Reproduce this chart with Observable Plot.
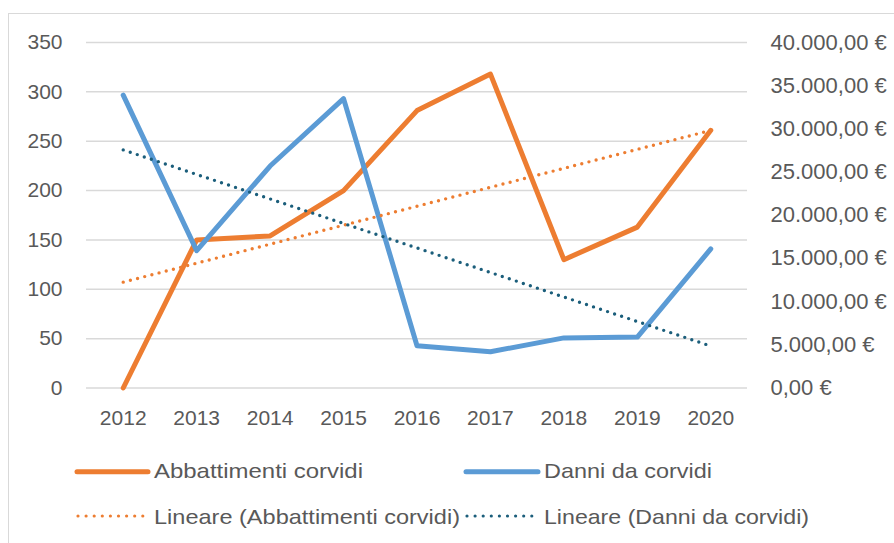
<!DOCTYPE html>
<html>
<head>
<meta charset="utf-8">
<script src="https://cdn.jsdelivr.net/npm/d3@7"></script>
<script src="https://cdn.jsdelivr.net/npm/@observablehq/plot@0.6"></script>
<style>
  html, body { margin: 0; padding: 0; background: #fff; }
  #wrap { position: relative; width: 894px; height: 543px; overflow: hidden; background: #fff; }
  #frame { position: absolute; left: 8px; top: 13px; width: 1000px; height: 700px; border: 1px solid #d9d9d9; box-sizing: border-box; }
  #chart { position: absolute; left: 0; top: 0; }
  #legend { position: absolute; left: 0; top: 440px; }
</style>
</head>
<body>
<div id="wrap">
  <div id="frame"></div>
  <div id="chart"></div>
  <svg id="legend" width="894" height="103"></svg>
</div>
<script>
// ---- data ----
const years = [2012, 2013, 2014, 2015, 2016, 2017, 2018, 2019, 2020];
const abbattimenti = [0, 150, 154, 200, 281, 318, 130, 163, 261];
const danni = [33900, 15900, 25700, 33500, 4900, 4200, 5800, 5900, 16100];
const leftTicks = [0, 50, 100, 150, 200, 250, 300, 350];
const rightTicks = [0, 5000, 10000, 15000, 20000, 25000, 30000, 35000, 40000];
const seriesNames = ["Abbattimenti corvidi", "Danni da corvidi"];
const trendNames = ["Lineare (Abbattimenti corvidi)", "Lineare (Danni da corvidi)"];

const orange = "#ED7D31", blue = "#5B9BD5", teal = "#1b5e7b", textColor = "#595959";
const leftMax = 350, rightMax = 40000;
const toLeft = v => v * leftMax / rightMax;

const rows = years.map((y, i) => ({year: y, abb: abbattimenti[i], danni: danni[i], danniL: toLeft(danni[i])}));

const locale = d3.formatLocale({decimal: ",", thousands: ".", grouping: [3], currency: ["", " €"]});
const euro = locale.format("$,.2f");

const chart = Plot.plot({
  width: 894,
  height: 440,
  marginLeft: 86,
  marginRight: 147,
  marginTop: 42,
  marginBottom: 52.5,
  x: {type: "linear", domain: [2011.5, 2020.5]},
  y: {domain: [0, leftMax]},
  style: {fontFamily: "'Liberation Sans', Arial, sans-serif", fontSize: "21px", color: textColor, background: "transparent"},
  marks: [
    Plot.ruleY(leftTicks, {stroke: "#d9d9d9", strokeWidth: 1.5}),
    Plot.axisY({ticks: leftTicks, tickSize: 0, tickPadding: 24, label: null, tickFormat: d => String(d)}),
    Plot.axisY({anchor: "right", ticks: rightTicks.map(toLeft), tickSize: 0, tickPadding: 23, label: null, fontSize: 22,
      tickFormat: d => euro(Math.round(d * rightMax / leftMax))}),
    Plot.axisX({ticks: years, tickSize: 0, tickPadding: 22, label: null, tickFormat: d => String(d)}),
    Plot.line(rows, {x: "year", y: "abb", stroke: orange, strokeWidth: 5, strokeLinejoin: "round", strokeLinecap: "round"}),
    Plot.line(rows, {x: "year", y: "danniL", stroke: blue, strokeWidth: 5, strokeLinejoin: "round", strokeLinecap: "round"}),
    Plot.linearRegressionY(rows, {x: "year", y: "abb", stroke: orange, ci: 0, strokeWidth: 3.4, strokeDasharray: "0 7.4", strokeLinecap: "round"}),
    Plot.linearRegressionY(rows, {x: "year", y: "danniL", stroke: teal, ci: 0, strokeWidth: 3.4, strokeDasharray: "0 7.4", strokeLinecap: "round"})
  ]
});
document.getElementById("chart").appendChild(chart);

// ---- legend ----
const legendItems = [
  {label: seriesNames[0], color: orange, dotted: false, x: 77, w: 71, tx: 154, tw: 209, row: 0},
  {label: seriesNames[1], color: blue, dotted: false, x: 466, w: 72, tx: 544, tw: 168, row: 0},
  {label: trendNames[0], color: orange, dotted: true, x: 78, w: 65, tx: 154, tw: 306, row: 1},
  {label: trendNames[1], color: teal, dotted: true, x: 467, w: 66, tx: 544, tw: 265, row: 1}
];
const rowSwatchY = [31.7, 76];
const rowBaseY = [37.5, 83.5];
const lg = d3.select("#legend");
legendItems.forEach(it => {
  lg.append("line")
    .attr("x1", it.x).attr("x2", it.x + it.w)
    .attr("y1", rowSwatchY[it.row]).attr("y2", rowSwatchY[it.row])
    .attr("stroke", it.color)
    .attr("stroke-width", it.dotted ? 3.2 : 5)
    .attr("stroke-linecap", "round")
    .attr("stroke-dasharray", it.dotted ? "0 8.1" : null);
  lg.append("text")
    .attr("x", it.tx).attr("y", rowBaseY[it.row])
    .attr("fill", textColor)
    .attr("font-family", "'Liberation Sans', Arial, sans-serif")
    .attr("font-size", 21)
    .attr("textLength", it.tw)
    .attr("lengthAdjust", "spacingAndGlyphs")
    .text(it.label);
});
</script>
</body>
</html>
